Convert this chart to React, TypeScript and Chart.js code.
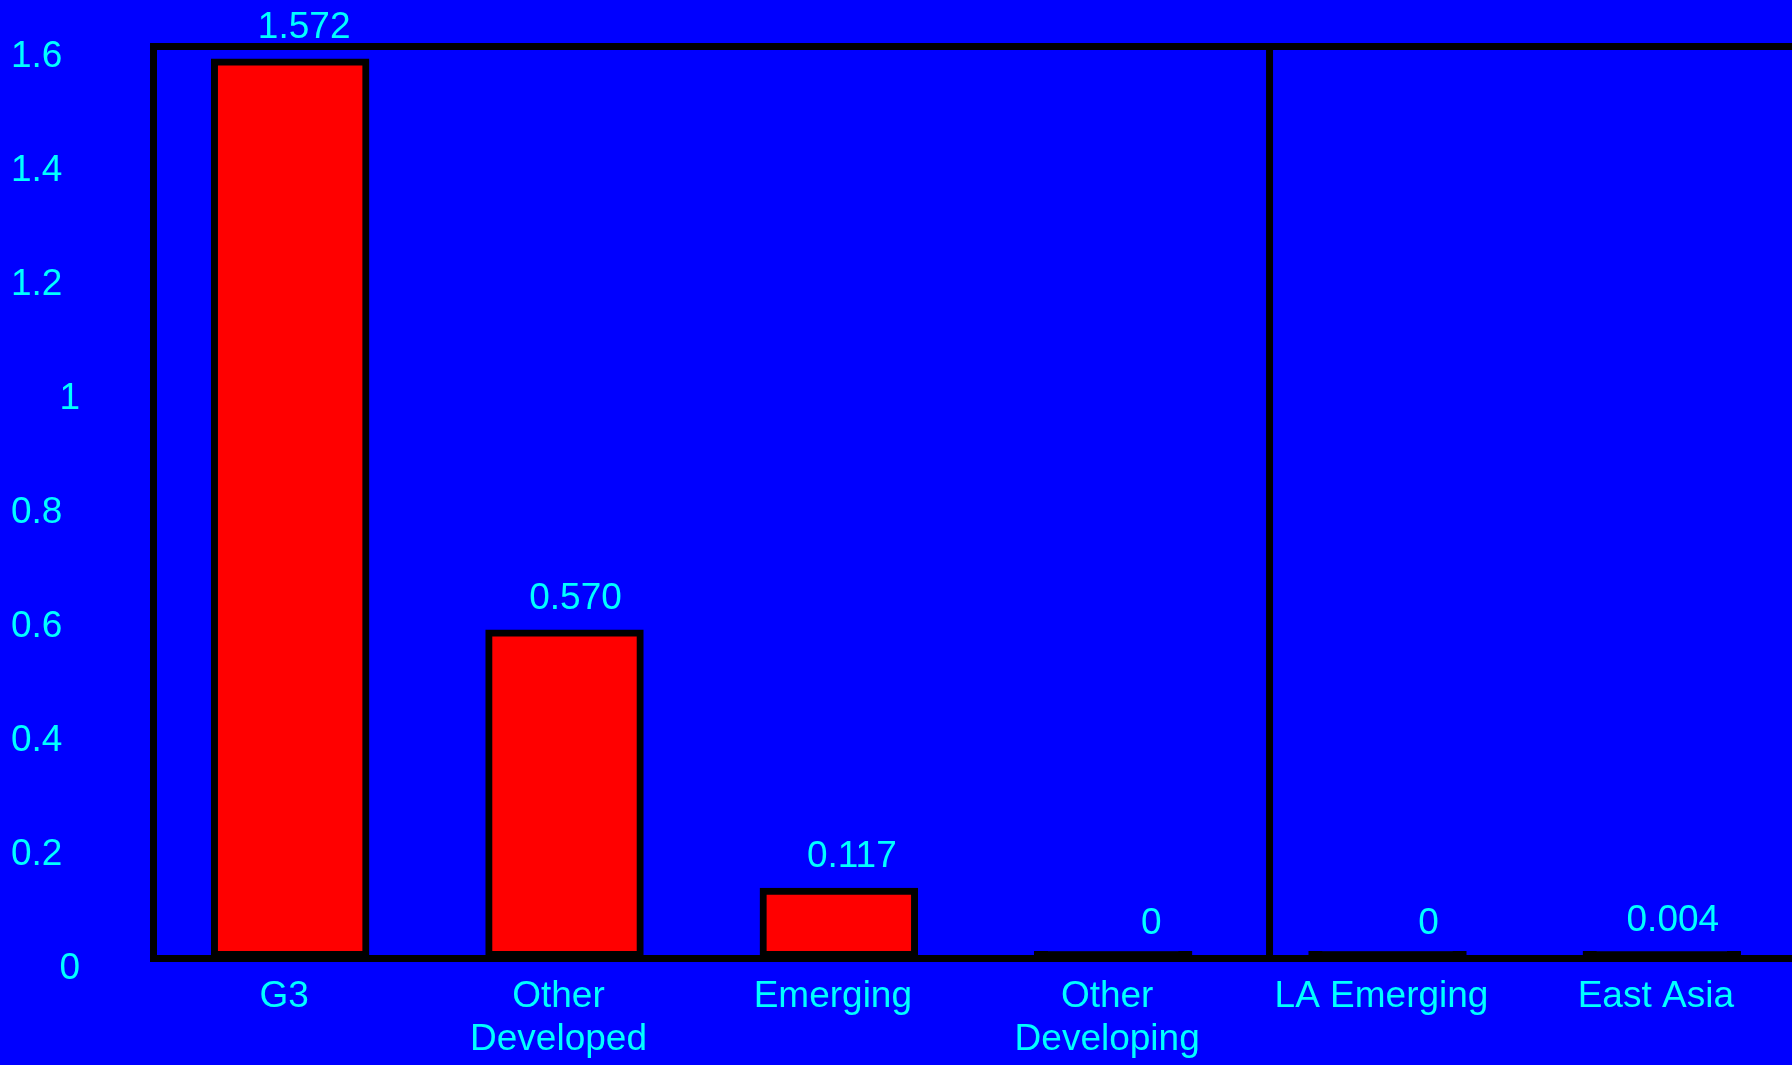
import React, { useEffect, useRef } from "react";
import { Chart, registerables } from "chart.js";

Chart.register(...registerables);

// ---- data ----
const categories: string[][] = [
  ["G3"],
  ["Other", "Developed"],
  ["Emerging"],
  ["Other", "Developing"],
  ["LA Emerging"],
  ["East Asia"],
];
const values: number[] = [1.572, 0.57, 0.117, 0, 0, 0.004];
const yTickLabels: string[] = ["0", "0.2", "0.4", "0.6", "0.8", "1", "1.2", "1.4", "1.6"];
const yMin = 0;
const yMax = 1.6;
const yStep = 0.2;
const dividerAt = 3.57; // divider position in category units

// ---- style ----
const FONT = "'Liberation Sans', Arial, sans-serif";
const CYAN = "#00ffff";
const BLUE = "#0000ff";
const RED = "#ff0000";
const BLACK = "#000000";
const LINE = 7;
const labelDx: number[] = [14, 11, 13, 38, 41, 11];

const fmt = (v: number) => (v === 0 ? "0" : v.toFixed(3));

const overlay = {
  id: "overlay",
  beforeDatasetsDraw(chart: any) {
    const { ctx, chartArea, scales } = chart;
    const xs = scales.x;
    const i0 = Math.floor(dividerAt);
    const p0 = xs.getPixelForValue(i0);
    const p1 = xs.getPixelForValue(i0 + 1);
    const x = p0 + (dividerAt - i0) * (p1 - p0);
    ctx.save();
    ctx.strokeStyle = BLACK;
    ctx.lineWidth = LINE;
    ctx.beginPath();
    ctx.moveTo(x, chartArea.top);
    ctx.lineTo(x, chartArea.bottom);
    ctx.stroke();
    ctx.restore();
  },
  afterDatasetsDraw(chart: any) {
    const { ctx, scales } = chart;
    const ys = scales.y;
    const meta = chart.getDatasetMeta(0);
    ctx.save();
    ctx.font = `37px ${FONT}`;
    ctx.fillStyle = CYAN;
    ctx.textAlign = "center";
    ctx.textBaseline = "middle";
    meta.data.forEach((el: any, i: number) => {
      const v = values[i];
      ctx.fillText(fmt(v), el.x + labelDx[i], ys.getPixelForValue(v) - 34.5);
    });
    ctx.restore();
  },
};

export default function App() {
  const ref = useRef<HTMLCanvasElement | null>(null);

  useEffect(() => {
    if (!ref.current) return;
    const chart = new Chart(ref.current, {
      type: "bar",
      data: {
        labels: categories,
        datasets: [
          {
            data: values,
            backgroundColor: (c: any) => {
              const ys = c.chart.scales && c.chart.scales.y;
              if (!ys) return RED;
              const h = Math.abs(ys.getPixelForValue(0) - ys.getPixelForValue(c.raw));
              return h < LINE ? BLACK : RED;
            },
            borderColor: BLACK,
            borderWidth: LINE,
            borderSkipped: false,
            inflateAmount: LINE / 2,
            minBarLength: 2,
            barPercentage: 0.552,
            categoryPercentage: 1,
            clip: false,
          } as any,
        ],
      },
      options: {
        responsive: false,
        animation: false,
        devicePixelRatio: 1,
        layout: { padding: { top: 46, left: 11, right: 0, bottom: 0 } },
        plugins: { legend: { display: false }, tooltip: { enabled: false } },
        scales: {
          x: {
            offset: true,
            grid: { display: false, drawTicks: false },
            border: { display: true, color: BLACK, width: LINE },
            ticks: {
              color: CYAN,
              font: { family: FONT, size: 37, lineHeight: 1.16 },
              padding: 17,
              labelOffset: -6,
              maxRotation: 0,
              autoSkip: false,
            },
            afterFit: (s: any) => {
              s.height = 1065 - 958;
            },
          },
          y: {
            min: yMin,
            max: yMax,
            grid: {
              drawTicks: false,
              lineWidth: LINE,
              color: (c: any) =>
                c.tick && Math.abs(c.tick.value - yMax) < 1e-9 ? BLACK : "rgba(0,0,0,0)",
            },
            border: { display: true, color: BLACK, width: LINE },
            ticks: {
              stepSize: yStep,
              color: CYAN,
              font: { family: FONT, size: 37 },
              crossAlign: "far",
              labelOffset: 10.5,
              padding: 0,
              callback: (_v: any, i: number) => {
                const t = yTickLabels[i];
                return t.length === 1 ? "\u2007\u2007\u2009" + t : t;
              },
            },
            afterFit: (s: any) => {
              s.width = 142;
            },
          },
        },
      } as any,
      plugins: [overlay],
    });
    return () => chart.destroy();
  }, []);

  return (
    <div
      style={{
        position: "fixed",
        left: 0,
        top: 0,
        width: 1792,
        height: 1065,
        overflow: "hidden",
        background: BLUE,
      }}
    >
      <canvas ref={ref} width={1799} height={1065} style={{ display: "block" }} />
    </div>
  );
}
